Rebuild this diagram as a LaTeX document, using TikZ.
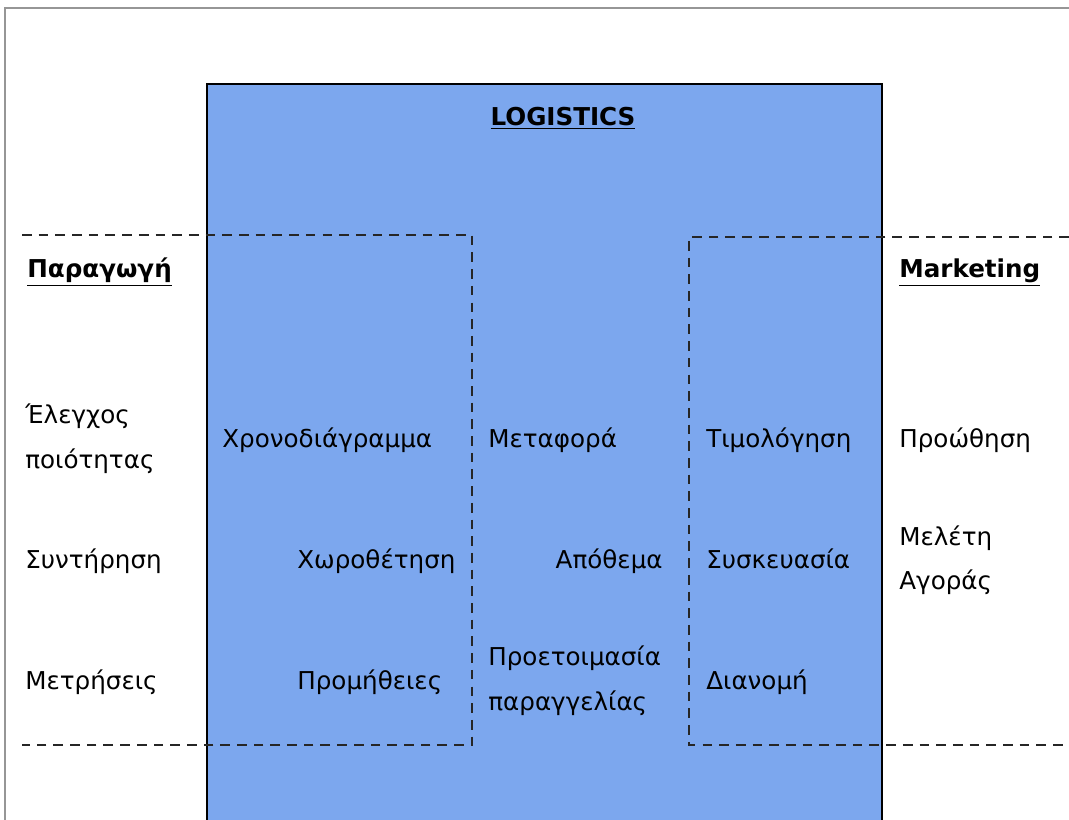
\documentclass[tikz,border=0pt]{standalone}
\usepackage{fontspec}
\setmainfont{DejaVu Sans}
\definecolor{logblue}{RGB}{124,167,238}
\definecolor{framegray}{RGB}{150,150,150}
\begin{document}
\begin{tikzpicture}[x=0.2mm, y=-0.2mm,
        txt/.style={anchor=base west, inner sep=0pt, font=\fontsize{14}{17}\selectfont},
        txtr/.style={anchor=base east, inner sep=0pt, font=\fontsize{14}{17}\selectfont},
        head/.style={anchor=base west, inner sep=0pt, font=\fontsize{14}{17}\selectfont\bfseries},
        zone/.style={draw=black!85, line width=1.5pt, dash pattern=on 5.5pt off 4pt}]
        \useasboundingbox (0,0) rectangle (1069,820);

        % page frame
        \path[draw=framegray, line width=0.6pt] (5,820) -- (5,8) -- (1069,8);

        % logistics block
        \path[fill=logblue] (207,84) rectangle (882,820);
        \path[draw=black, line width=1.2pt] (207,820) -- (207,84) -- (882,84) -- (882,820);
        \node[head, anchor=base] (logistics) at (563,126) {\underline{LOGISTICS}};

        % overlapping zones
        \path[zone] (22,235) -- (472,235) -- (472,745) -- (22,745);
        \path[zone] (1069,237) -- (689,237) -- (689,745) -- (1069,745);

        % production side
        \node[head] (paragogi) at (27,278) {\underline{Παραγωγή}};
        \node[txt] (elegxos) at (25,424) {Έλεγχος};
        \node[txt] (poiotita) at (25,469) {ποιότητας};
        \node[txt] (syntirisi) at (25,569) {Συντήρηση};
        \node[txt] (metriseis) at (25,690) {Μετρήσεις};

        % left overlap
        \node[txt] (xronodiag) at (222,448) {Χρονοδιάγραμμα};
        \node[txt] (xorothetisi) at (297,569) {Χωροθέτηση};
        \node[txt] (promitheies) at (297,690) {Προμήθειες};

        % logistics core
        \node[txt] (metafora) at (488,448) {Μεταφορά};
        \node[txtr] (apothema) at (663,569) {Απόθεμα};
        \node[txt] (proetoim) at (488,666) {Προετοιμασία};
        \node[txt] (paraggel) at (488,711) {παραγγελίας};

        % right overlap
        \node[txt] (timologisi) at (706,448) {Τιμολόγηση};
        \node[txt] (syskeuasia) at (706,569) {Συσκευασία};
        \node[txt] (dianomi) at (706,690) {Διανομή};

        % marketing side
        \node[head] (marketing) at (899,278) {\underline{Marketing}};
        \node[txt] (proothisi) at (899,448) {Προώθηση};
        \node[txt] (meleti) at (899,546) {Μελέτη};
        \node[txt] (agoras) at (899,590) {Αγοράς};
    \end{tikzpicture}
\end{document}
